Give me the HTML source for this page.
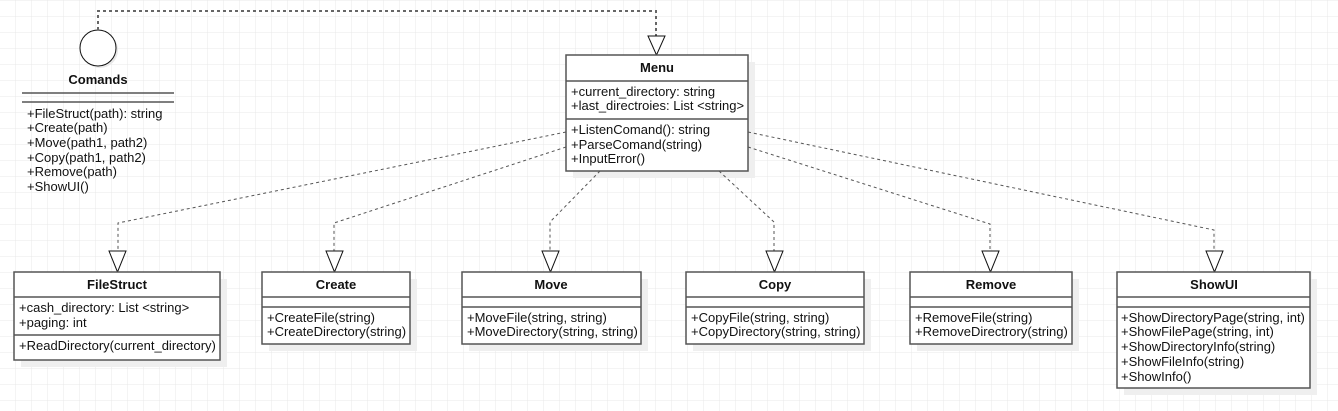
<!DOCTYPE html>
<html><head><meta charset="utf-8"><style>
html,body{margin:0;padding:0;background:#fff}
svg{display:block}
text{font-family:"Liberation Sans",Arial,sans-serif;font-size:13px;fill:#111}
.b{font-weight:bold;text-anchor:middle}
.box{fill:#fff;stroke:#555;stroke-width:1.5}
.sh{fill:#efefef}
.ln{stroke:#555;stroke-width:1.5}
.d{fill:none;stroke:#555;stroke-width:1;stroke-dasharray:3,3}
.tri{fill:#fff;stroke:#111;stroke-width:1}
</style></head><body>
<svg width="1338" height="411" xmlns="http://www.w3.org/2000/svg">
<defs><pattern id="g" width="16" height="16" patternUnits="userSpaceOnUse" x="-1" y="0">
<path d="M0 0H16M0 0V16" stroke="#e8e8e8" stroke-width="1" fill="none"/></pattern></defs>
<rect width="1338" height="411" fill="url(#g)"/>

<!-- shadows -->
<rect x="573" y="62" width="182" height="116" class="sh"/>
<rect x="21" y="279" width="206" height="88" class="sh"/>
<rect x="269" y="279" width="148" height="72" class="sh"/>
<rect x="469" y="279" width="179" height="72" class="sh"/>
<rect x="693" y="279" width="178" height="72" class="sh"/>
<rect x="917" y="279" width="162" height="72" class="sh"/>
<rect x="1124" y="279" width="193" height="116" class="sh"/>

<!-- Comands -->
<circle cx="100" cy="50" r="18" fill="#e8e8e8"/>
<circle cx="98" cy="48" r="18" fill="#fff" stroke="#111" stroke-width="1"/>
<text x="98" y="84" class="b">Comands</text>
<line x1="22" y1="93" x2="174" y2="93" class="ln"/>
<line x1="22" y1="102" x2="174" y2="102" class="ln"/>
<text x="27" y="118">+FileStruct(path): string</text>
<text x="27" y="132">+Create(path)</text>
<text x="27" y="147">+Move(path1, path2)</text>
<text x="27" y="162">+Copy(path1, path2)</text>
<text x="27" y="176">+Remove(path)</text>
<text x="27" y="191">+ShowUI()</text>

<!-- connectors -->
<path d="M98 30V11H656V36" fill="none" stroke="#666" stroke-width="2" stroke-dasharray="3,3"/>
<polygon points="648,36 665,36 656.5,55" class="tri"/>

<path d="M566 132L118 223V251" class="d"/>
<path d="M566 147L334 223V251" class="d"/>
<path d="M600 171L550 222V251" class="d"/>
<path d="M719 171L774 222V251" class="d"/>
<path d="M748 147L990 224V251" class="d"/>
<path d="M748 132L1214 230V251" class="d"/>
<polygon points="109,251 126,251 117.5,272" class="tri"/>
<polygon points="326,251 343,251 334.5,272" class="tri"/>
<polygon points="542,251 559,251 550.5,272" class="tri"/>
<polygon points="766,251 783,251 774.5,272" class="tri"/>
<polygon points="982,251 999,251 990.5,272" class="tri"/>
<polygon points="1206,251 1223,251 1214.5,272" class="tri"/>

<!-- Menu -->
<rect x="566" y="55" width="182" height="116" class="box"/>
<text x="657" y="72" class="b">Menu</text>
<line x1="566" y1="81" x2="748" y2="81" class="ln"/>
<text x="571" y="96">+current_directory: string</text>
<text x="571" y="110">+last_directroies: List &lt;string&gt;</text>
<line x1="566" y1="119" x2="748" y2="119" class="ln"/>
<text x="571" y="134">+ListenComand(): string</text>
<text x="571" y="149">+ParseComand(string)</text>
<text x="571" y="163">+InputError()</text>

<!-- FileStruct -->
<rect x="14" y="272" width="206" height="88" class="box"/>
<text x="117" y="289" class="b">FileStruct</text>
<line x1="14" y1="297" x2="220" y2="297" class="ln"/>
<text x="19" y="312">+cash_directory: List &lt;string&gt;</text>
<text x="19" y="327">+paging: int</text>
<line x1="14" y1="335" x2="220" y2="335" class="ln"/>
<text x="19" y="350">+ReadDirectory(current_directory)</text>

<!-- Create -->
<rect x="262" y="272" width="148" height="72" class="box"/>
<text x="336" y="289" class="b">Create</text>
<line x1="262" y1="297" x2="410" y2="297" class="ln"/>
<line x1="262" y1="307" x2="410" y2="307" class="ln"/>
<text x="267" y="322">+CreateFile(string)</text>
<text x="267" y="336">+CreateDirectory(string)</text>

<!-- Move -->
<rect x="462" y="272" width="179" height="72" class="box"/>
<text x="551" y="289" class="b">Move</text>
<line x1="462" y1="297" x2="641" y2="297" class="ln"/>
<line x1="462" y1="307" x2="641" y2="307" class="ln"/>
<text x="467" y="322">+MoveFile(string, string)</text>
<text x="467" y="336">+MoveDirectory(string, string)</text>

<!-- Copy -->
<rect x="686" y="272" width="178" height="72" class="box"/>
<text x="775" y="289" class="b">Copy</text>
<line x1="686" y1="297" x2="864" y2="297" class="ln"/>
<line x1="686" y1="307" x2="864" y2="307" class="ln"/>
<text x="691" y="322">+CopyFile(string, string)</text>
<text x="691" y="336">+CopyDirectory(string, string)</text>

<!-- Remove -->
<rect x="910" y="272" width="162" height="72" class="box"/>
<text x="991" y="289" class="b">Remove</text>
<line x1="910" y1="297" x2="1072" y2="297" class="ln"/>
<line x1="910" y1="307" x2="1072" y2="307" class="ln"/>
<text x="915" y="322">+RemoveFile(string)</text>
<text x="915" y="336">+RemoveDirectrory(string)</text>

<!-- ShowUI -->
<rect x="1117" y="272" width="193" height="116" class="box"/>
<text x="1214" y="289" class="b">ShowUI</text>
<line x1="1117" y1="297" x2="1310" y2="297" class="ln"/>
<line x1="1117" y1="307" x2="1310" y2="307" class="ln"/>
<text x="1121" y="322">+ShowDirectoryPage(string, int)</text>
<text x="1121" y="336">+ShowFilePage(string, int)</text>
<text x="1121" y="351">+ShowDirectoryInfo(string)</text>
<text x="1121" y="366">+ShowFileInfo(string)</text>
<text x="1121" y="381">+ShowInfo()</text>
</svg>
</body></html>
